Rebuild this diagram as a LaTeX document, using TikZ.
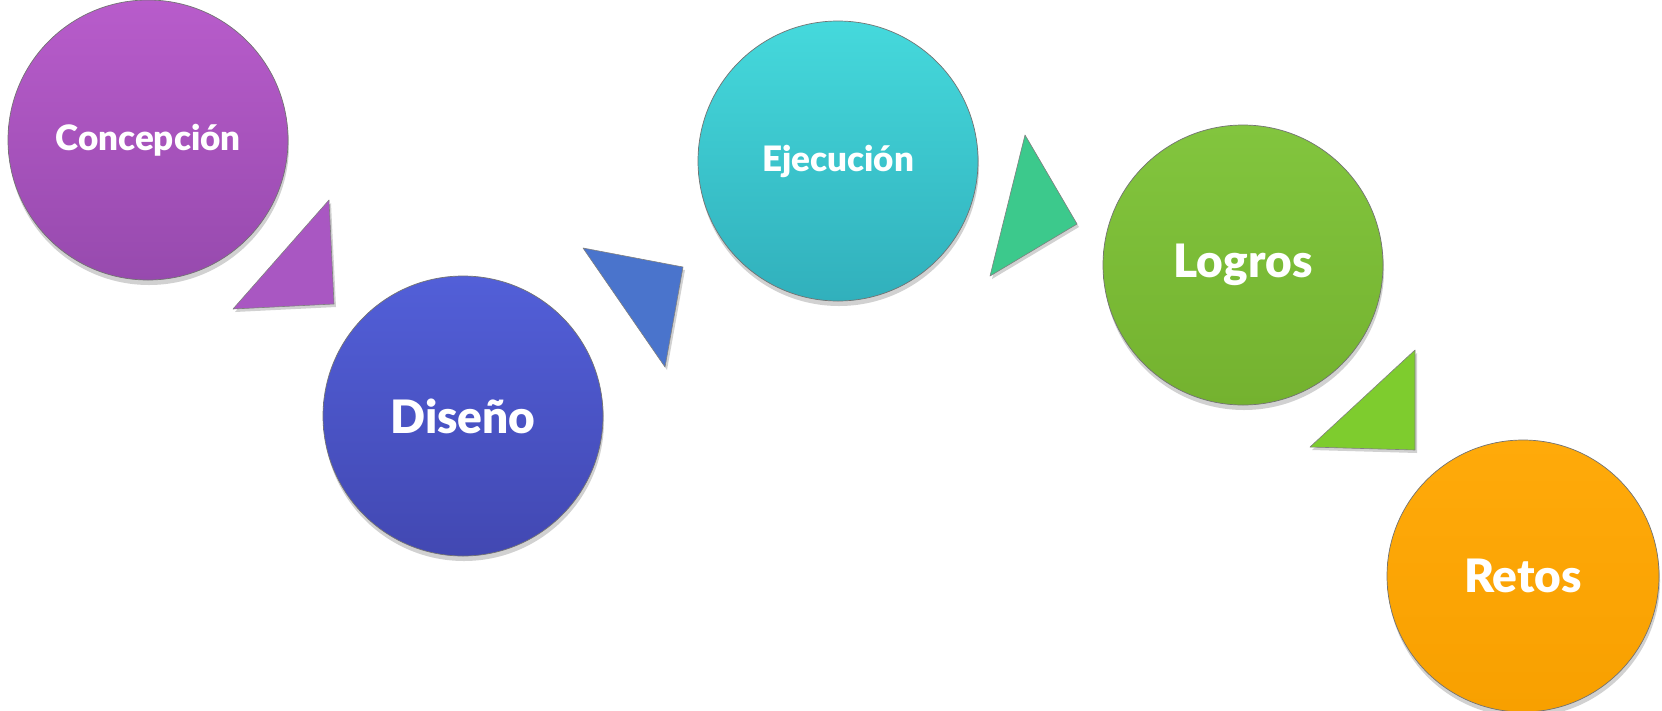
\documentclass[tikz,border=0pt]{standalone}
\usepackage{fontspec}
\setmainfont{Lato}[BoldFont={Lato Black}]
\usetikzlibrary{shadows}
\definecolor{pA}{HTML}{B85CCB}\definecolor{pB}{HTML}{974AAE}
\definecolor{bA}{HTML}{525FD8}\definecolor{bB}{HTML}{4248B2}
\definecolor{tA}{HTML}{45D9DC}\definecolor{tB}{HTML}{31B0BC}
\definecolor{gA}{HTML}{82C53E}\definecolor{gB}{HTML}{74B22F}
\definecolor{oA}{HTML}{FFAA0A}\definecolor{oB}{HTML}{F8A000}
\definecolor{triP}{HTML}{A957C2}\definecolor{triB}{HTML}{4A74CC}
\definecolor{triT}{HTML}{3CC98C}\definecolor{triG}{HTML}{7ECC2E}
\tikzset{
  stage/.style={circle, minimum size=280pt, inner sep=0pt, draw=black!55, line width=0.7pt,
    text=white, font=\bfseries,
    drop shadow={shadow xshift=1pt, shadow yshift=-5pt, opacity=0.3, fill=black!60}},
  tri/.style={draw=black!50, line width=0.6pt, line join=round,
    drop shadow={shadow xshift=2pt, shadow yshift=-3pt, opacity=0.3, fill=black!60}},
  small/.style={font=\bfseries\fontsize{35}{40}\selectfont},
  large/.style={font=\bfseries\fontsize{46}{52}\selectfont}
}
\begin{document}
\begin{tikzpicture}[x=1pt,y=-1pt]
\useasboundingbox (0,0) rectangle (1662,710);
\node[stage, small, top color=pA, bottom color=pB] (c1) at (148,140) {Concepción};
\node[stage, large, top color=bA, bottom color=bB] (c2) at (463,416) {Diseño};
\node[stage, small, top color=tA, bottom color=tB] (c3) at (838,161) {Ejecución};
\node[stage, large, top color=gA, bottom color=gB] (c4) at (1243,265) {Logros};
\node[stage, large, top color=oA, bottom color=oB, minimum size=272pt] (c5) at (1523,576) {Retos};
% triangles
\path[tri, fill=triP] (233,309) -- (329,200) -- (334,304) -- cycle;
\path[tri, fill=triB] (583,248) -- (683,267) -- (665,367) -- cycle;
\path[tri, fill=triT] (1025,135) -- (1077,224) -- (990,276) -- cycle;
\path[tri, fill=triG] (1415,350) -- (1415,450) -- (1310,447) -- cycle;
\end{tikzpicture}
\end{document}
